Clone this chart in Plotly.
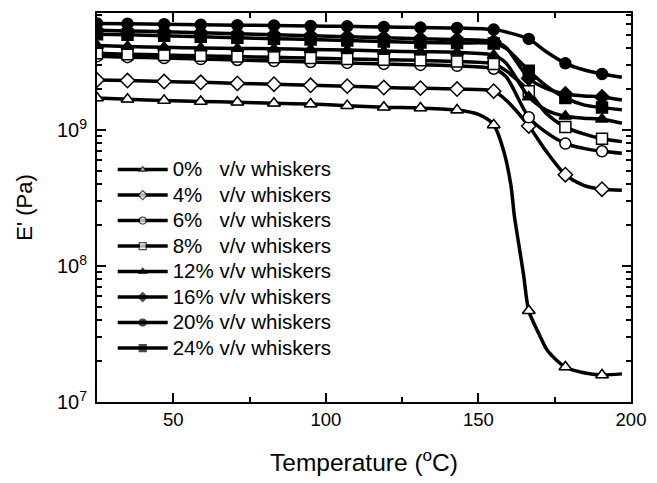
import plotly.graph_objects as go

# Temperatures (deg C) at which markers are drawn
T_MARK = [25, 35, 47, 59, 71, 83, 95, 107, 119, 131, 143, 155, 166.5, 178.5, 190.5]

# 0% whiskers (needs more points for the steep drop)
T_0 = [25, 35, 47, 59, 71, 83, 95, 107, 119, 131, 143, 150, 155, 158.3, 160.6,
       161.8, 163.3, 164.8, 166.5, 170, 172.4, 175.6, 178.5, 184.5, 190.5, 197]
E_0 = [1.72e9, 1.68e9, 1.65e9, 1.62e9, 1.60e9, 1.57e9, 1.55e9, 1.51e9, 1.47e9,
       1.45e9, 1.40e9, 1.30e9, 1.09e9, 6.97e8, 3.98e8, 2.31e8, 1.41e8, 8.6e7,
       4.69e7, 3.11e7, 2.43e7, 2.03e7, 1.81e7, 1.64e7, 1.58e7, 1.61e7]

# common temperature grid for the other series
T_S = [25, 35, 47, 59, 71, 83, 95, 107, 119, 131, 143, 155, 159, 166.5, 172,
       178.5, 184.5, 190.5, 197]
E_4 = [2.33e9, 2.31e9, 2.27e9, 2.24e9, 2.20e9, 2.17e9, 2.13e9, 2.10e9, 2.05e9,
       2.03e9, 2.00e9, 1.93e9, 1.66e9, 1.07e9, 7.08e8, 4.69e8, 3.92e8, 3.67e8, 3.61e8]
E_6 = [3.48e9, 3.43e9, 3.38e9, 3.32e9, 3.27e9, 3.21e9, 3.16e9, 3.11e9, 3.06e9,
       3.01e9, 2.96e9, 2.82e9, 2.47e9, 1.24e9, 9.67e8, 7.94e8, 7.32e8, 6.97e8, 6.74e8]
E_8 = [3.66e9, 3.61e9, 3.56e9, 3.51e9, 3.47e9, 3.42e9, 3.38e9, 3.33e9, 3.29e9,
       3.25e9, 3.19e9, 3.06e9, 2.73e9, 1.93e9, 1.34e9, 1.05e9, 9.36e8, 8.62e8, 8.21e8]
E_12 = [4.18e9, 4.11e9, 4.05e9, 4.01e9, 3.98e9, 3.95e9, 3.91e9, 3.87e9, 3.80e9,
        3.76e9, 3.72e9, 3.55e9, 3.11e9, 1.75e9, 1.41e9, 1.26e9, 1.22e9, 1.20e9, 1.12e9]
E_16 = [5.40e9, 5.35e9, 5.27e9, 5.18e9, 5.10e9, 5.01e9, 4.93e9, 4.85e9, 4.77e9,
        4.69e9, 4.62e9, 4.47e9, 4.05e9, 2.39e9, 2.03e9, 1.84e9, 1.78e9, 1.75e9, 1.66e9]
E_20 = [6.06e9, 6.04e9, 5.99e9, 5.95e9, 5.90e9, 5.86e9, 5.81e9, 5.78e9, 5.72e9,
        5.66e9, 5.62e9, 5.47e9, 5.26e9, 4.67e9, 3.79e9, 3.09e9, 2.77e9, 2.58e9, 2.44e9]
E_24 = [5.05e9, 5.01e9, 4.93e9, 4.85e9, 4.77e9, 4.69e9, 4.62e9, 4.54e9, 4.47e9,
        4.39e9, 4.36e9, 4.32e9, 3.98e9, 2.73e9, 2.13e9, 1.72e9, 1.53e9, 1.46e9, 1.41e9]

NB = "\u00a0"
LABELS = ["0%" + NB * 3 + "v/v whiskers", "4%" + NB * 3 + "v/v whiskers",
          "6%" + NB * 3 + "v/v whiskers", "8%" + NB * 3 + "v/v whiskers",
          "12% v/v whiskers", "16% v/v whiskers", "20% v/v whiskers",
          "24% v/v whiskers"]
SYMBOLS = ["triangle-up", "diamond", "circle", "square",
           "triangle-up", "diamond", "circle", "square"]
FILLS = ["white", "white", "white", "white", "black", "black", "black", "black"]

SERIES = [(T_0, E_0), (T_S, E_4), (T_S, E_6), (T_S, E_8),
          (T_S, E_12), (T_S, E_16), (T_S, E_20), (T_S, E_24)]

FONT = "Liberation Sans, Arial, sans-serif"
MARK_SIZE = 11
LEGEND_MARK = 7

fig = go.Figure()
for (tx, ey), lab, sym, fill in zip(SERIES, LABELS, SYMBOLS, FILLS):
    is_mark = [t in T_MARK for t in tx]
    # size chosen so the legend symbol (mean of sizes) is small, as in the reference
    s_in = min(MARK_SIZE, LEGEND_MARK * len(tx) / sum(is_mark))
    fig.add_trace(go.Scatter(
        x=tx, y=ey, mode="lines+markers",
        name='<span style="font-size:20.5px">' + lab + "</span>",
        line=dict(color="black", width=3.5, shape="spline", smoothing=0.8),
        marker=dict(symbol=sym, size=[s_in if m else 0 for m in is_mark], color=fill,
                    line=dict(color="black", width=1.2)),
        hoverinfo="skip"))
    mx = [t for t, m in zip(tx, is_mark) if m]
    my = [e for e, m in zip(ey, is_mark) if m]
    fig.add_trace(go.Scatter(
        x=mx, y=my, mode="markers",
        marker=dict(symbol=sym, size=MARK_SIZE, color=fill, line=dict(color="black", width=1.5)),
        showlegend=False))

minor_y = [k * 10 ** e for e in (7, 8, 9) for k in range(2, 10)]

fig.update_layout(
    width=657, height=483,
    margin=dict(l=97, r=16, t=11, b=71),
    plot_bgcolor="white", paper_bgcolor="white",
    font=dict(family=FONT, color="black", size=18),
    showlegend=True,
    legend=dict(x=0.0294, y=0.643, xanchor="left", yanchor="top",
                bgcolor="rgba(0,0,0,0)", font=dict(size=17.3, family=FONT),
                itemwidth=50, tracegroupgap=0),
    xaxis=dict(range=[25, 200], showline=True, linewidth=2, linecolor="black", mirror="ticks",
               ticks="inside", ticklen=9, tickwidth=1.5, tickcolor="black",
               tickvals=[50, 100, 150, 200], showgrid=False, zeroline=False,
               tickfont=dict(size=18.5), ticklabelstandoff=0,
               minor=dict(tickvals=[75, 125, 175], ticks="inside", ticklen=5, tickwidth=1.5, tickcolor="black"),
               title=dict(text="Temperature (<sup>o</sup>C)", font=dict(size=24.5), standoff=25)),
    yaxis=dict(type="log", range=[7, 9.86], showline=True, linewidth=2, linecolor="black", mirror="ticks",
               ticks="inside", ticklen=9, tickwidth=1.5, tickcolor="black",
               tickvals=[1e7, 1e8, 1e9], ticktext=["10<sup>7</sup>", "10<sup>8</sup>", "10<sup>9</sup>"],
               showgrid=False, zeroline=False, tickfont=dict(size=20), ticklabelstandoff=4,
               minor=dict(tickvals=minor_y, ticks="inside", ticklen=5, tickwidth=1.5, tickcolor="black"),
               title=dict(text="E' (Pa)", font=dict(size=22), standoff=18)),
)

fig.write_html("out.html", config={"displayModeBar": False},
               post_script="document.body.style.margin='0px';document.body.style.overflow='hidden';")
